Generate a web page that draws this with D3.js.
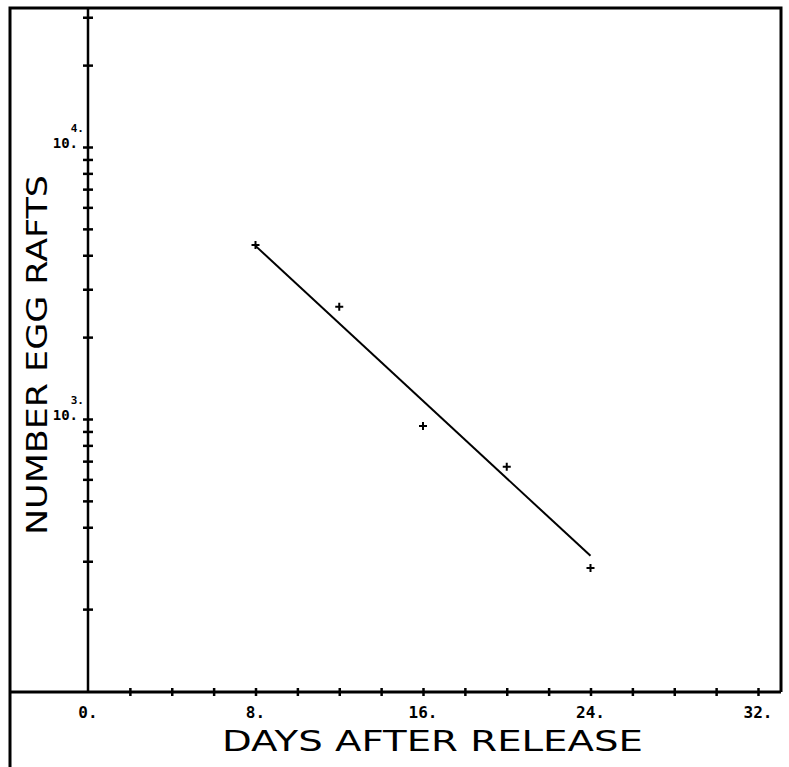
<!DOCTYPE html>
<html>
<head>
<meta charset="utf-8">
<script src="https://cdn.jsdelivr.net/npm/d3@7"></script>
<style>
  body { margin: 0; background: #fff; }
</style>
</head>
<body>
<div id="container"></div>
<script>
// data
let days = [8, 12, 16, 20, 24];
let rafts = [4365, 2585, 943, 667, 283];
// fitted line end points
let fitDays = [8, 24];
let fitRafts = [4330, 314];
// axis ticks
let xTicks = [0, 2, 4, 6, 8, 10, 12, 14, 16, 18, 20, 22, 24, 26, 28, 30, 32];
let xLabels = [0, 8, 16, 24, 32];
let yTicks = [200, 300, 400, 500, 600, 700, 800, 900, 1000, 2000, 3000, 4000, 5000,
  6000, 7000, 8000, 9000, 10000, 20000, 30000];
let yLabels = [{ base: '10.', exp: '3.', v: 1000 }, { base: '10.', exp: '4.', v: 10000 }];

let width = 789;
let height = 767;
let frame = { left: 10, top: 8, right: 781, axisY: 692, axisX: 88 };

let svg = d3.create('svg').attr('width', width).attr('height', height);

let x = d3.scaleLinear().domain([0, 32]).range([88, 758]);
let y = d3.scaleLog().domain([100, 10000]).range([691, 147]);

// outer frame
svg.append('path')
  .attr('d', `M${frame.left},${height} V${frame.top} H${frame.right} V${frame.axisY}`)
  .attr('fill', 'none')
  .attr('stroke', 'black')
  .attr('stroke-width', 3);

// x axis line across whole frame
svg.append('line')
  .attr('x1', frame.left).attr('x2', frame.right)
  .attr('y1', frame.axisY).attr('y2', frame.axisY)
  .attr('stroke', 'black').attr('stroke-width', 3);

// y axis line
svg.append('line')
  .attr('x1', frame.axisX).attr('x2', frame.axisX)
  .attr('y1', frame.top).attr('y2', frame.axisY)
  .attr('stroke', 'black').attr('stroke-width', 2.5);

// ticks drawn as small crosses, both sides of the axis
let tickAxes = [
  d3.axisBottom(x).tickValues(xTicks.filter(d => d > 0)),
  d3.axisTop(x).tickValues(xTicks.filter(d => d > 0))
];
tickAxes.forEach(ax => {
  let g = svg.append('g')
    .attr('transform', `translate(0,${frame.axisY})`)
    .call(ax.tickSize(4).tickFormat(''));
  g.select('.domain').remove();
  g.selectAll('line').attr('stroke-width', 2.5);
});

[d3.axisLeft(y), d3.axisRight(y)].forEach(ax => {
  let g = svg.append('g')
    .attr('transform', `translate(${frame.axisX},0)`)
    .call(ax.tickValues(yTicks).tickSize(5).tickFormat(''));
  g.select('.domain').remove();
  g.selectAll('line').attr('stroke-width', 2.5);
});

// x tick labels
svg.selectAll('.x-label')
  .data(xLabels)
  .enter()
  .append('text')
  .attr('class', 'x-label')
  .attr('x', d => x(d))
  .attr('y', 718)
  .attr('text-anchor', 'middle')
  .attr('font-family', 'DejaVu Sans Mono')
  .attr('font-weight', 'bold')
  .attr('font-size', '16px')
  .text(d => d + '.');

// y tick labels, power of ten
let yl = svg.selectAll('.y-label')
  .data(yLabels)
  .enter()
  .append('g')
  .attr('class', 'y-label')
  .attr('font-family', 'DejaVu Sans Mono')
  .attr('font-weight', 'bold');
yl.append('text')
  .attr('x', 78)
  .attr('y', d => y(d.v) + 1)
  .attr('text-anchor', 'end')
  .attr('font-size', '14px')
  .text(d => d.base);
yl.append('text')
  .attr('x', 84)
  .attr('y', d => y(d.v) - 15)
  .attr('text-anchor', 'end')
  .attr('font-size', '11px')
  .text(d => d.exp);

// axis titles
svg.append('text')
  .attr('x', 222)
  .attr('y', 751)
  .attr('font-family', 'DejaVu Sans')
  .attr('font-size', '28px')
  .attr('textLength', 421)
  .attr('lengthAdjust', 'spacingAndGlyphs')
  .text('DAYS AFTER RELEASE');

svg.append('text')
  .attr('transform', 'translate(47,535) rotate(-90)')
  .attr('font-family', 'DejaVu Sans')
  .attr('font-size', '29px')
  .attr('textLength', 360)
  .attr('lengthAdjust', 'spacingAndGlyphs')
  .text('NUMBER EGG RAFTS');

// fitted line
let line = d3.line().x(d => x(d[0])).y(d => y(d[1]));
svg.append('path')
  .datum(d3.zip(fitDays, fitRafts))
  .attr('d', line)
  .attr('fill', 'none')
  .attr('stroke', 'black')
  .attr('stroke-width', 2);

// observed points as plus marks
svg.selectAll('.pt')
  .data(d3.zip(days, rafts))
  .enter()
  .append('path')
  .attr('class', 'pt')
  .attr('d', d => `M${x(d[0]) - 4},${y(d[1])} h8 M${x(d[0])},${y(d[1]) - 4} v8`)
  .attr('stroke', 'black')
  .attr('stroke-width', 2);

d3.select('#container').append(() => svg.node());
</script>
</body>
</html>
